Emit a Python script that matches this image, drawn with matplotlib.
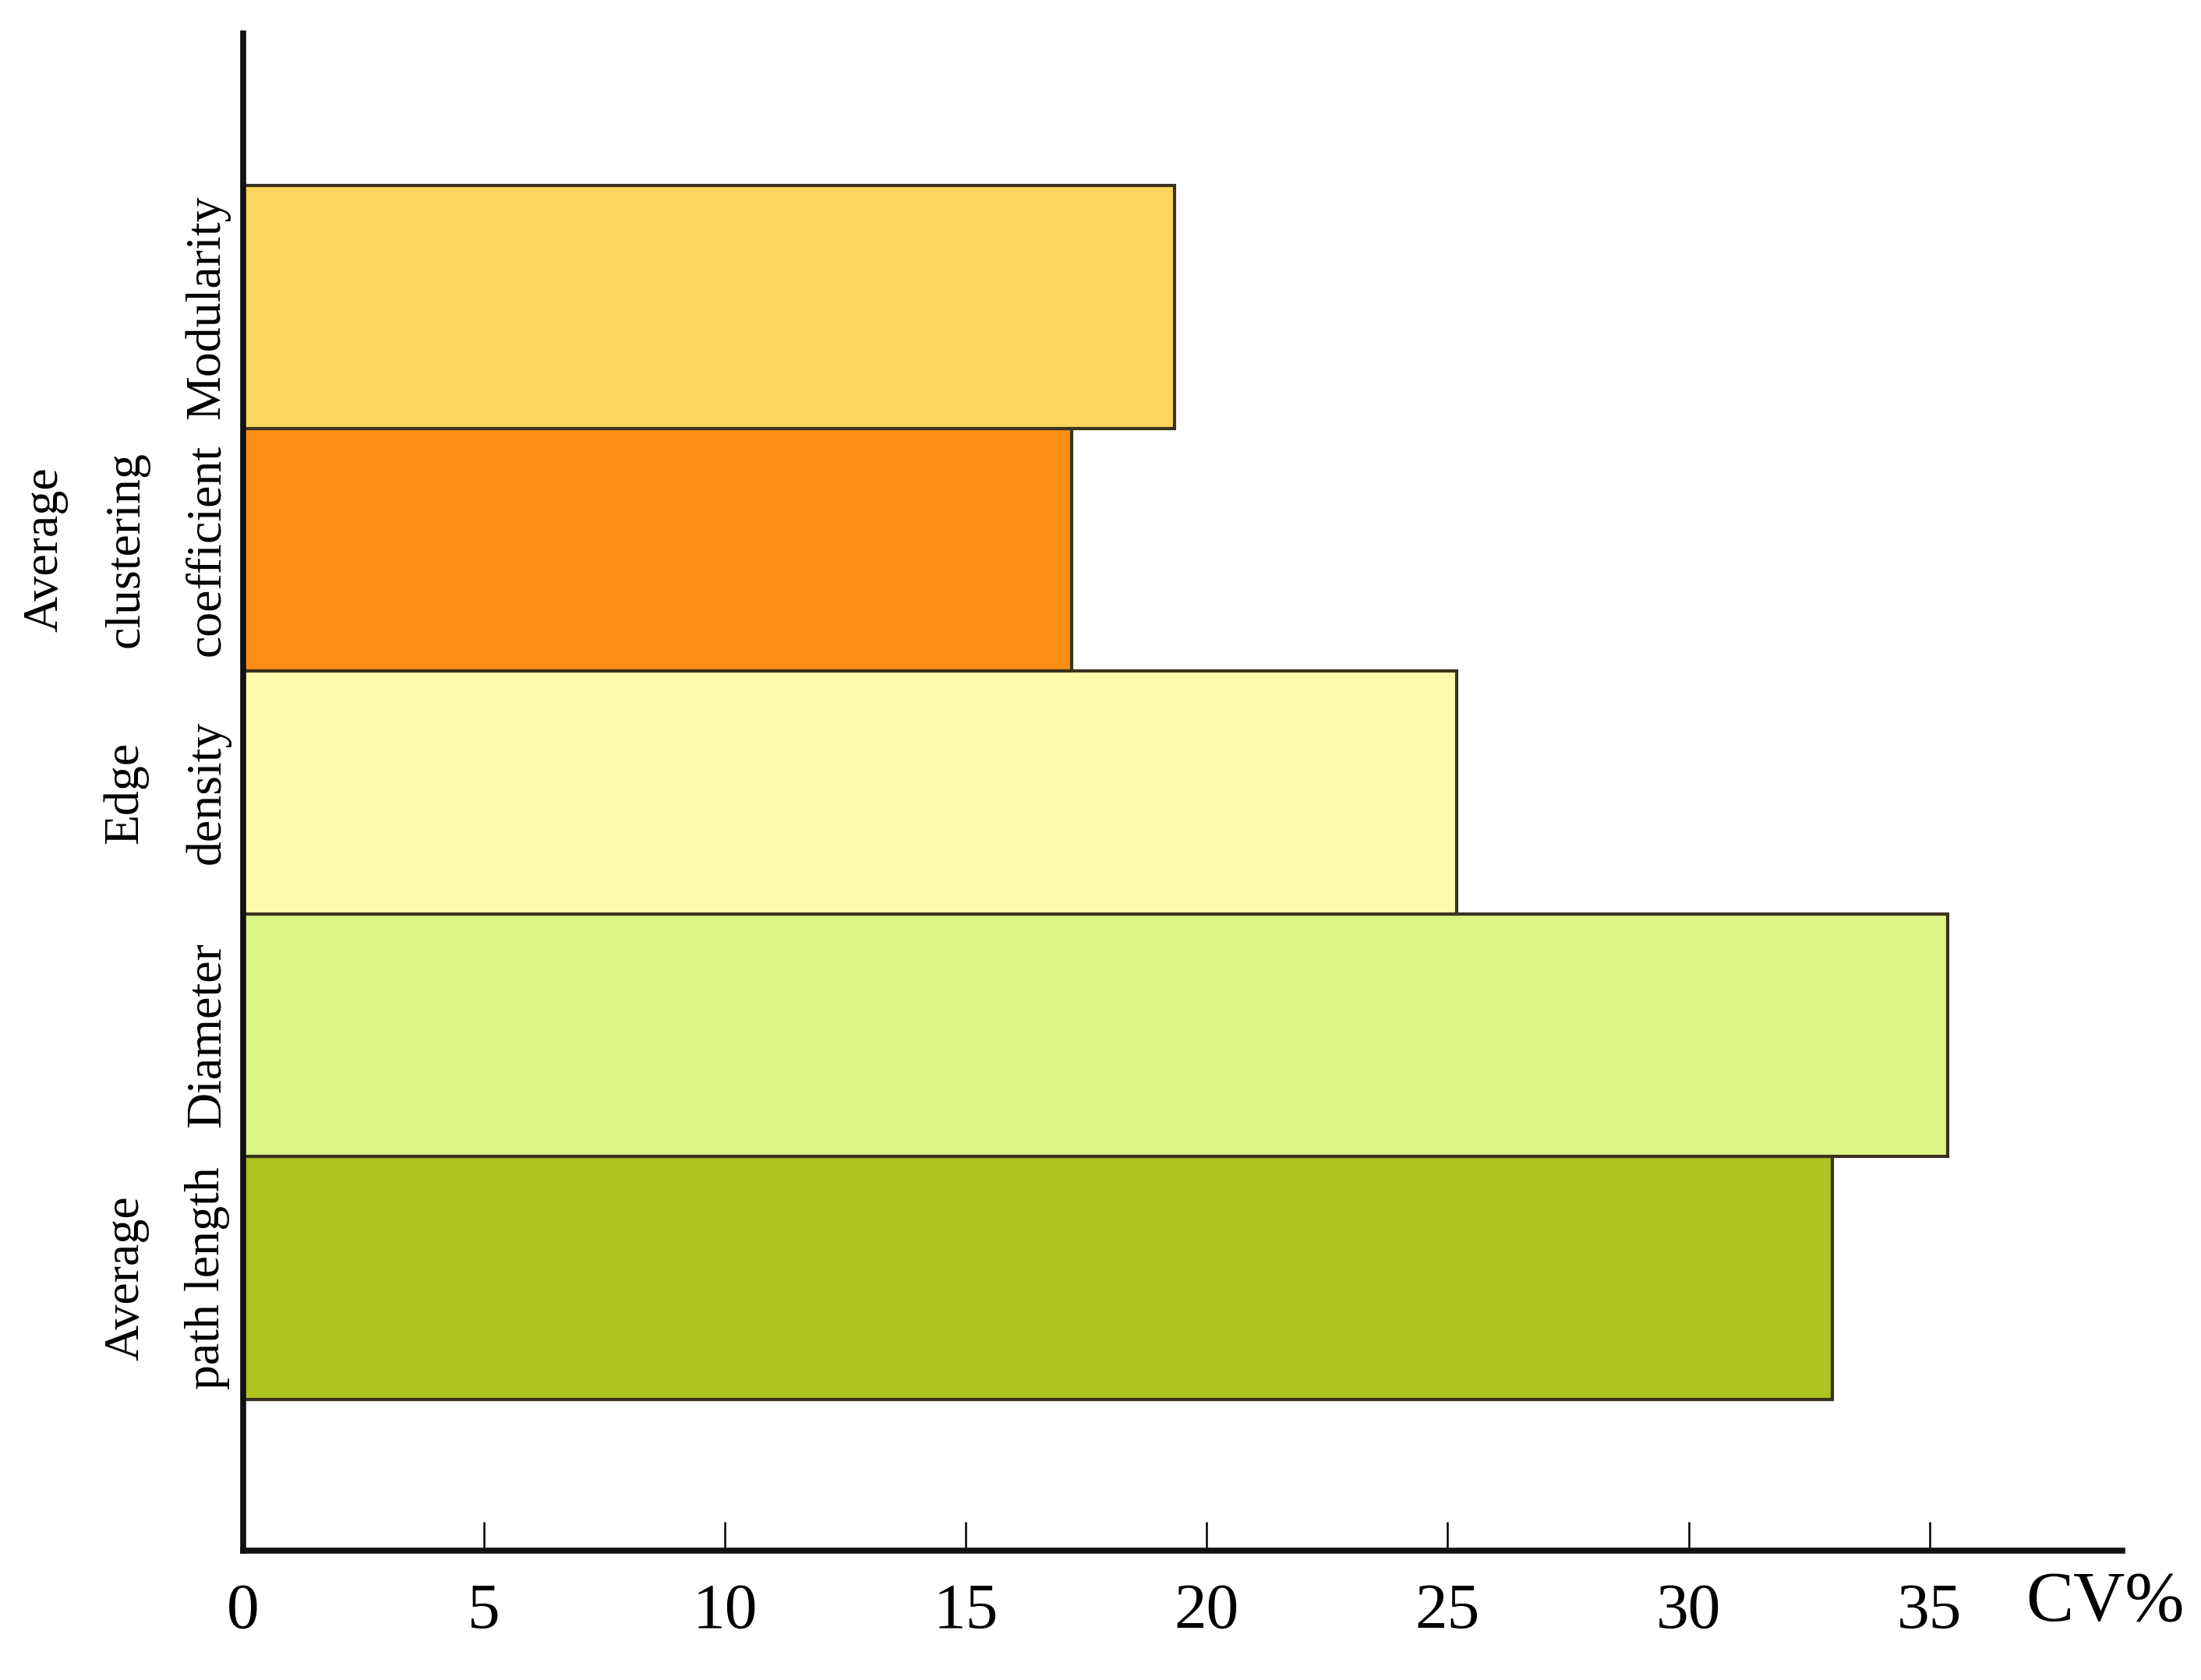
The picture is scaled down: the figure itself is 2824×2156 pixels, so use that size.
import matplotlib
matplotlib.use("Agg")
import matplotlib.pyplot as plt

# CV% de cada métrica de rede, de baixo para cima
METRICAS = ["Average\npath length", "Diameter", "Edge\ndensity",
            "Average\nclustering\ncoefficient", "Modularity"]
CV = [32.98, 35.37, 25.18, 17.19, 19.33]
CORES = ["#ADC31F", "#DDF487", "#FAFCAC", "#FB8F16", "#FED65F"]
XTICKS = [0, 5, 10, 15, 20, 25, 30, 35]

plt.rcParams["font.family"] = ["Liberation Serif", "DejaVu Serif"]

fig = plt.figure(figsize=(28.24, 21.56), dpi=100)
ax = fig.add_axes([0.1105, 0.077, 0.8537, 0.9031])

pos = list(range(len(METRICAS)))
ax.barh(pos, CV, height=1.0, color=CORES, edgecolor="#3b3320", linewidth=3)

ax.set_xlim(0, 39)
ax.set_ylim(-1.124, 5.127)

ax.set_xticks(XTICKS)
ax.set_xticklabels([str(v) for v in XTICKS], fontsize=60)
ax.tick_params(axis="x", direction="in", length=27, width=1.8, pad=30)

ax.set_yticks(pos)
ax.set_yticklabels(METRICAS, rotation=90, fontsize=46, va="center",
                   multialignment="center", linespacing=2.05)
ax.tick_params(axis="y", length=0, pad=12)

for s in ("top", "right"):
    ax.spines[s].set_visible(False)
for s in ("left", "bottom"):
    ax.spines[s].set_linewidth(5.5)
    ax.spines[s].set_color("#111111")

ax.set_xlabel("CV%", fontsize=66)
ax.xaxis.set_label_coords(0.991, -0.035)
ax.xaxis.label.set_va("center")

fig.savefig("out.png", dpi=100)
